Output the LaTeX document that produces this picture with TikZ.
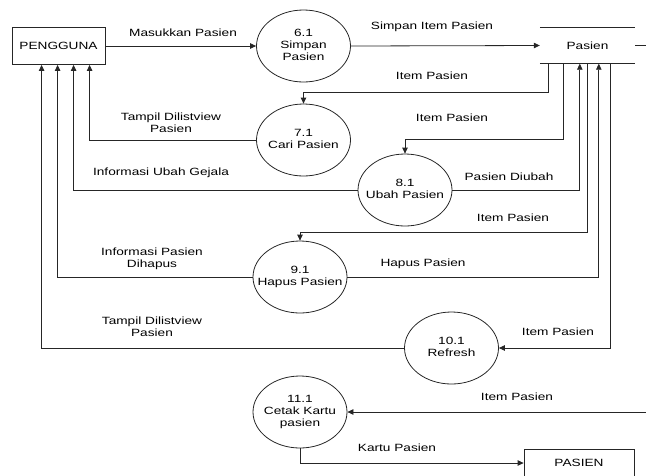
\documentclass[tikz,border=0pt]{standalone}
\usepackage{fontspec}
\newfontfamily\dfdfont[FakeStretch=1.3]{Liberation Sans}
\usetikzlibrary{shapes.geometric,arrows.meta}

% process text may touch the bubble's outline, so it takes no width
\newcommand{\bubbletext}[1]{\makebox[0pt]{\begin{tabular}{@{}c@{}}#1\end{tabular}}}

\tikzset{
  base/.style={font=\dfdfont\fontsize{10.5}{12}\selectfont, align=center},
  entity/.style={base, draw=black!85, line width=0.8pt, minimum width=93pt, minimum height=37pt, inner sep=0pt},
  process/.style={base, ellipse, draw=black!85, line width=0.8pt, minimum width=94pt, minimum height=72pt, inner sep=0pt},
  datastore/.style={base, minimum width=95pt, minimum height=36pt, inner sep=0pt},
  storeline/.style={draw=black!85, line width=0.8pt},
  flow/.style={draw=black!85, line width=0.8pt, -{Triangle[length=6pt,width=5.5pt]}},
  link/.style={draw=black!85, line width=0.8pt},
  lbl/.style={base, inner sep=0pt}
}

\begin{document}
\begin{tikzpicture}[x=1pt, y=-1pt]
  \useasboundingbox (0,0) rectangle (646,475);

  % external entities and data store
  \node[entity] (user) at (58.5,46) {PENGGUNA};
  \node[datastore] (store) at (587.5,45.5) {Pasien};
  \draw[storeline] (store.north west) -- (store.north east);
  \draw[storeline] (store.south west) -- (store.south east);
  \node[entity, minimum width=110pt, minimum height=28pt] (card) at (579,463) {PASIEN};

  % processes
  \node[process] (p6)  at (303.5,46)  {\bubbletext{6.1\\Simpan\\Pasien}};
  \node[process] (p7)  at (303.5,140) {\bubbletext{7.1\\Cari Pasien}};
  \node[process] (p8)  at (405,190)   {\bubbletext{8.1\\Ubah Pasien}};
  \node[process] (p9)  at (300,277)   {\bubbletext{9.1\\Hapus Pasien}};
  \node[process] (p10) at (451.5,348) {\bubbletext{10.1\\Refresh}};
  \node[process] (p11) at (300,412)   {\bubbletext{11.1\\Cetak Kartu\\pasien}};

  % off-page ends of the store connectors
  \coordinate (outA) at (652,45.5);
  \coordinate (outB) at (652,412);

  % data flows
  \draw[flow] (user.east) -- (p6.west);
  \draw[flow] (p6.east) -- (store.west);

  \draw[flow] ([xshift=9pt]store.south west) -- ++(0,29) -| (p7.north);
  \draw[flow] (p7.west) -| ([xshift=78pt]user.south west);

  \draw[flow] ([xshift=24pt]store.south west) -- ++(0,76) -| (p8.north);
  \draw[flow] (p8.east) -| ([xshift=40pt]store.south west);
  \draw[flow] (p8.west) -| ([xshift=62pt]user.south west);

  \draw[flow] ([xshift=48pt]store.south west) -- ++(0,169) -| (p9.north);
  \draw[flow] (p9.east) -| ([xshift=59pt]store.south west);
  \draw[flow] (p9.west) -| ([xshift=46pt]user.south west);

  \draw[flow] ([xshift=71pt]store.south west) |- (p10.east);
  \draw[flow] (p10.west) -| ([xshift=30pt]user.south west);

  \draw[link] (store.east) -- (outA);
  \draw[flow] (outB) -- (p11.east);
  \draw[flow] (p11.south) |- (card.west);

  % flow labels
  \node[lbl] (t1)  at (183,33)  {Masukkan Pasien};
  \node[lbl] (t2)  at (432,27)  {Simpan Item Pasien};
  \node[lbl] (t3)  at (432,76)  {Item Pasien};
  \node[lbl] (t4)  at (171,123) {Tampil Dilistview\\Pasien};
  \node[lbl] (t5)  at (452,118) {Item Pasien};
  \node[lbl] (t6)  at (161,173) {Informasi Ubah Gejala};
  \node[lbl] (t7)  at (509,177) {Pasien Diubah};
  \node[lbl] (t8)  at (513,218) {Item Pasien};
  \node[lbl] (t9)  at (152,259) {Informasi Pasien\\Dihapus};
  \node[lbl] (t10) at (423,264) {Hapus Pasien};
  \node[lbl] (t11) at (152,327) {Tampil Dilistview\\Pasien};
  \node[lbl] (t12) at (558,332) {Item Pasien};
  \node[lbl] (t13) at (517,397) {Item Pasien};
  \node[lbl] (t14) at (397,448) {Kartu Pasien};
\end{tikzpicture}
\end{document}
